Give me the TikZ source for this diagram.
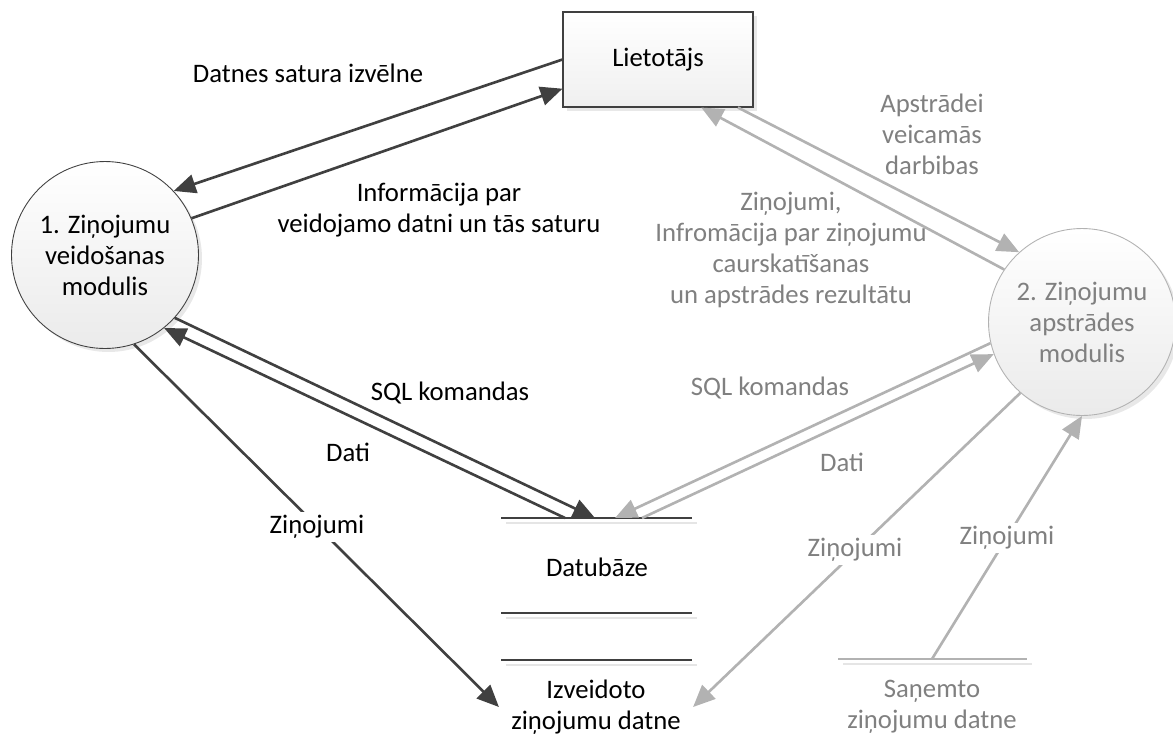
\documentclass[tikz,border=0pt]{standalone}
\usepackage{fontspec}
\setmainfont{Carlito}
\usetikzlibrary{arrows.meta, shadows}
\definecolor{ink}{HTML}{404040}
\definecolor{pale}{HTML}{B2B2B2}
\definecolor{paletext}{HTML}{808080}

\begin{document}
\begin{tikzpicture}[x=0.02cm, y=-0.02cm,
        font=\fontsize{15.2}{17.6}\selectfont,
        proc/.style={circle, minimum size=3.74cm, inner sep=0pt, align=center,
            top color=white, bottom color=gray!16,
            drop shadow={fill=gray!35, shadow xshift=0.07cm, shadow yshift=-0.07cm}},
        flow/.style={ink, line width=1.5pt, -{Triangle[length=4.4mm, width=3.8mm]}},
        gflow/.style={flow, pale},
        glbl/.style={text=paletext, align=center},
        store/.style={line width=0.7pt}]
            \useasboundingbox (0,0) rectangle (1173,751);
            \node[proc, draw=ink, line width=0.5pt] (mod1) at (105,255) {1. Ziņojumu\\veidošanas\\modulis};
            \node[proc, draw=pale, line width=0.5pt, text=paletext] (mod2) at (1082,322) {2. Ziņojumu\\apstrādes\\modulis};
            \node[draw=ink, line width=0.6pt, minimum width=3.8cm, minimum height=1.9cm,
                top color=white, bottom color=gray!12,
                drop shadow={fill=gray!35, shadow xshift=0.08cm, shadow yshift=-0.08cm}] (user) at (658,59.5) {Lietotājs};
            \foreach \y in {518, 613, 660} {
                \draw[store, gray!20] (506,\y+5) -- (697,\y+5);
                \draw[store, ink] (501,\y) -- (692,\y);
            }
            \draw[store, gray!20] (843,664) -- (1032,664);
            \draw[store, pale] (838,659) -- (1027,659);
            \node (db) at (597,567) {Datubāze};
            \node[align=center, inner xsep=0.24cm] (izv) at (596,707) {Izveidoto\\ziņojumu datne};
            \node[glbl] (rcvd) at (932,707) {Saņemto\\ziņojumu datne};
            \coordinate (db1) at (565,518);
            \coordinate (db2) at (595,518);
            \coordinate (db3) at (615,518);
            \coordinate (db4) at (642,518);
            \coordinate (rcv) at (932,659);
            \draw[flow] (user.west) -- (mod1.43.7);
            \draw[flow] (mod1.23) -- (user.197.8);
            \draw[flow] (mod1.-42) -- (db2);
            \draw[flow] (db1) -- (mod1.-51.3);
            \draw[flow] (mod1.-72.3) -- (izv.west);
            \draw[gflow] (user.-31.8) -- (mod2.132.9);
            \draw[gflow] (mod2.146.6) -- (user.-48.4);
            \draw[gflow] (mod2.193.1) -- (db3);
            \draw[gflow] (db4) -- (mod2.200.8);
            \draw[gflow] (mod2.229.4) -- (izv.east);
            \draw[gflow] (rcv) -- (mod2.south);
            \node (lmenu) at (308,73) {Datnes satura izvēlne};
            \node[align=center] (linfo) at (439,210) {Informācija par\\veidojamo datni un tās saturu};
            \node (lsql1) at (450,393) {SQL komandas};
            \node (ldati1) at (348,452) {Dati};
            \node[fill=white, inner sep=2pt] (lmsg1) at (317,527) {Ziņojumi};
            \node[glbl] (lact) at (932,134) {Apstrādei\\veicamās\\darbibas};
            \node[glbl] (lres) at (791,250) {Ziņojumi,\\Infromācija par ziņojumu\\caurskatīšanas\\un apstrādes rezultātu};
            \node[glbl] (lsql2) at (770,388) {SQL komandas};
            \node[glbl] (ldati2) at (842,462) {Dati};
            \node[glbl, fill=white, inner sep=2pt] (lmsg2) at (855,550) {Ziņojumi};
            \node[glbl, fill=white, inner sep=2pt] (lmsg3) at (1007,538) {Ziņojumi};
        \end{tikzpicture}
\end{document}
